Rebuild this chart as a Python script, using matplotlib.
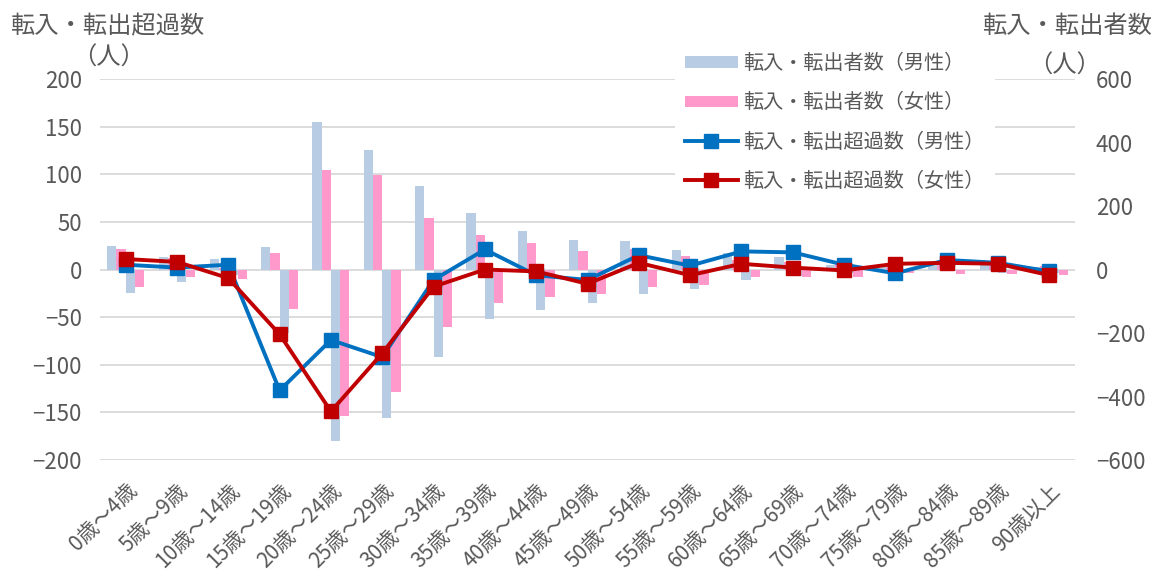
import numpy as np
import matplotlib.pyplot as plt
from matplotlib.patches import Patch
from matplotlib.lines import Line2D
from matplotlib.transforms import ScaledTranslation

plt.rcParams['font.family'] = ['Noto Sans CJK JP', 'DejaVu Sans']

# age groups
ages = ["0歳～4歳", "5歳～9歳", "10歳～14歳", "15歳～19歳", "20歳～24歳",
        "25歳～29歳", "30歳～34歳", "35歳～39歳", "40歳～44歳", "45歳～49歳",
        "50歳～54歳", "55歳～59歳", "60歳～64歳", "65歳～69歳", "70歳～74歳",
        "75歳～79歳", "80歳～84歳", "85歳～89歳", "90歳以上"]

# transfers in / out (right axis, people)
male_in = [75, 40, 32, 71, 466, 375, 264, 178, 121, 92, 89, 61, 52, 38, 15, 8, 16, 18, 8]
female_in = [64, 36, 5, 52, 312, 297, 162, 108, 84, 59, 63, 43, 31, 24, 24, 17, 22, 22, 10]
male_out = [-74, -39, -16, -200, -540, -467, -275, -157, -128, -104, -76, -60, -34, -20,
            -10, -12, -5, -11, -11]
female_out = [-55, -25, -31, -123, -462, -385, -181, -107, -86, -76, -55, -49, -25, -23,
              -23, -11, -15, -15, -17]

# net migration (left axis, people)
net_male = [5, 2, 5, -127, -74, -92, -11, 21, -6, -11, 15, 4, 19, 18, 5, -4, 10, 7, -2]
net_female = [11, 8, -9, -68, -149, -88, -18, 0, -2, -15, 7, -6, 6, 2, -1, 6, 7, 6, -6]

txt = '#595959'
c_mbar = '#B8CCE4'
c_fbar = '#FF99CC'
c_mline = '#0070C0'
c_fline = '#C00000'

fig = plt.figure(figsize=(11.58, 5.77), dpi=100)
ax = fig.add_axes([0.08636, 0.20277, 0.84197, 0.66031])
axb = ax.twinx()
ax.set_zorder(axb.get_zorder() + 1)
ax.patch.set_visible(False)

x = np.arange(len(ages))
w = 0.18
for v in np.arange(-600, 601, 150):
    axb.axhline(v, color='#d9d9d9', lw=1.3, zorder=0)
axb.bar(x - 1.5 * w, male_in, w, color=c_mbar, zorder=2)
axb.bar(x - 0.5 * w, female_in, w, color=c_fbar, zorder=2)
axb.bar(x + 0.5 * w, male_out, w, color=c_mbar, zorder=2)
axb.bar(x + 1.5 * w, female_out, w, color=c_fbar, zorder=2)
axb.set_ylim(-600, 600)
axb.set_yticks(np.arange(-600, 601, 200))

ax.plot(x, net_male, color=c_mline, lw=2.8, marker='s', ms=9.5, zorder=3)
ax.plot(x, net_female, color=c_fline, lw=2.8, marker='s', ms=9.5, zorder=4)
ax.set_ylim(-200, 200)
ax.set_yticks(np.arange(-200, 201, 50))
ax.set_xlim(-0.5, len(ages) - 0.5)
ax.set_xticks(x)
ax.set_xticklabels(ages, rotation=45, ha='right', va='top', rotation_mode='anchor')
shift = ScaledTranslation(-0.05, 0, fig.dpi_scale_trans)
for lab in ax.get_xticklabels():
    lab.set_transform(lab.get_transform() + shift)

for a in (ax, axb):
    for s in a.spines.values():
        s.set_visible(False)
ax.tick_params(axis='y', length=0, pad=13, labelsize=16, labelcolor=txt)
ax.tick_params(axis='x', length=0, pad=14, labelsize=15, labelcolor=txt)
axb.tick_params(axis='y', length=0, pad=15, labelsize=16, labelcolor=txt)

fig.text(0.009, 0.955, "転入・転出超過数", fontsize=17.5, color=txt, va='center', ha='left')
fig.text(0.062, 0.8995, "（人）", fontsize=17.5, color=txt, va='center', ha='left')
fig.text(0.995, 0.955, "転入・転出者数", fontsize=17.5, color=txt, va='center', ha='right')
fig.text(0.951, 0.887, "（人）", fontsize=17.5, color=txt, va='center', ha='right')

handles = [Patch(facecolor=c_mbar), Patch(facecolor=c_fbar),
           Line2D([], [], color=c_mline, lw=2.8, marker='s', ms=9.5),
           Line2D([], [], color=c_fline, lw=2.8, marker='s', ms=9.5)]
labels = ["転入・転出者数（男性）", "転入・転出者数（女性）",
          "転入・転出超過数（男性）", "転入・転出超過数（女性）"]
leg = ax.legend(handles, labels, loc='upper left', bbox_to_anchor=(0.583, 0.925),
                bbox_transform=fig.transFigure, fontsize=14.5, frameon=True,
                facecolor='white', edgecolor='none', framealpha=1, fancybox=False,
                handlelength=2.6, handleheight=0.5, handletextpad=0.3,
                labelspacing=0.9, borderpad=0.5, borderaxespad=0)
for t in leg.get_texts():
    t.set_color(txt)

fig.savefig('out.png', dpi=100)
